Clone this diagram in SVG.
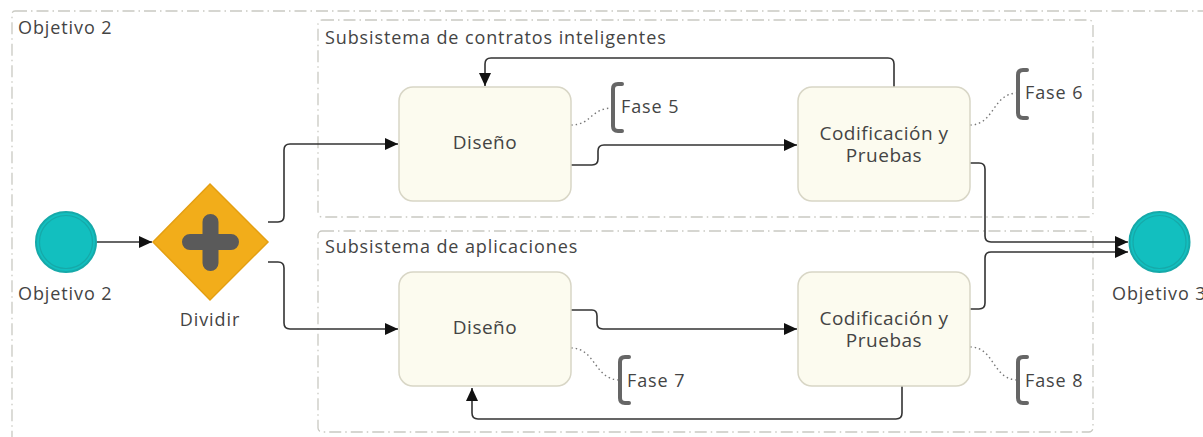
<svg xmlns="http://www.w3.org/2000/svg" width="1203" height="437" viewBox="0 0 1203 437">
  <style>
    .pool { fill: none; stroke: #c9c9c2; stroke-width: 1.3; stroke-dasharray: 12 4 1.5 4; }
    .lbl { font-family: "Open Sans", "Lato", sans-serif; font-size: 18px; letter-spacing: 0.9px; fill: #444; }
    .task rect { fill: #fcfbef; stroke: #d8d6c6; stroke-width: 1.5; }
    .task text { font-family: "Open Sans", "Lato", sans-serif; font-size: 19px; letter-spacing: 0.5px; fill: #444; text-anchor: middle; }
    .flow { fill: none; stroke: #333; stroke-width: 1.6; marker-end: url(#arrow); }
    .assoc { fill: none; stroke: #777; stroke-width: 1.4; stroke-dasharray: 1.5 3; }
    .bracket { fill: none; stroke: #666; stroke-width: 4; stroke-linecap: round; }
    .event circle.o { fill: #12bfbf; stroke: #16a9a9; stroke-width: 2; }
    .event circle.i { fill: none; stroke: #16a9a9; stroke-width: 1.2; }
  </style>
  <defs>
    <marker id="arrow" viewBox="0 0 13 12" refX="13" refY="6" markerWidth="13" markerHeight="12" markerUnits="userSpaceOnUse" orient="auto">
      <path d="M0,0 L13,6 L0,12 Z" fill="#111"/>
    </marker>
  </defs>

  <!-- pool and lanes -->
  <g id="pool">
    <rect class="pool" x="12" y="11" width="1220" height="440" rx="3"/>
    <text class="lbl" x="18" y="34">Objetivo 2</text>
  </g>
  <g id="lane-contratos">
    <rect class="pool" x="318" y="20" width="775" height="197" rx="4"/>
    <text class="lbl" x="325" y="44">Subsistema de contratos inteligentes</text>
  </g>
  <g id="lane-aplicaciones">
    <rect class="pool" x="318" y="231" width="775" height="201" rx="4"/>
    <text class="lbl" x="325" y="253">Subsistema de aplicaciones</text>
  </g>

  <!-- connectors -->
  <g id="connectors">
    <path class="flow" d="M97,242 H152"/>
    <path class="flow" d="M268,222 H278 Q284,222 284,216 V150 Q284,144 290,144 H398"/>
    <path class="flow" d="M268,262 H278 Q284,262 284,268 V323 Q284,329 290,329 H398"/>
    <path class="flow" d="M571,165 H592 Q598,165 598,159 V151 Q598,145 604,145 H797"/>
    <path class="flow" d="M894,87 V64 Q894,58 888,58 H491 Q485,58 485,64 V86"/>
    <path class="flow" d="M571,310 H592 Q597,310 597,316 V323 Q597,329 603,329 H797"/>
    <path class="flow" d="M902,386 V413 Q902,419 896,419 H478 Q472,419 472,413 V388"/>
    <path class="flow" d="M970,163 H979 Q985,163 985,169 V236 Q985,242 991,242 H1128"/>
    <path class="flow" d="M970,309 H979 Q985,309 985,303 V258 Q985,252 991,252 H1128"/>
    <path class="assoc" d="M571,125 C592,125 590,108 613,108"/>
    <path class="assoc" d="M970,125 C995,125 992,93 1018,93"/>
    <path class="assoc" d="M571,348 C596,348 594,380 620,380"/>
    <path class="assoc" d="M970,347 C995,347 992,380 1018,380"/>
  </g>

  <!-- start event -->
  <g id="start" class="event">
    <circle class="o" cx="66" cy="242" r="30"/>
    <circle class="i" cx="66" cy="242" r="26.5"/>
    <text class="lbl" x="18" y="300">Objetivo 2</text>
  </g>

  <!-- parallel gateway -->
  <g id="gateway">
    <path d="M210,184 L268,242 L210,300 L153,242 Z" fill="#f2ad1a" stroke="#e49f12" stroke-width="1.5"/>
    <path d="M190,242 H231 M210.5,222 V263" stroke="#5a5a5a" stroke-width="16" stroke-linecap="round"/>
    <text class="lbl" x="210" y="326" text-anchor="middle">Dividir</text>
  </g>

  <!-- tasks -->
  <g id="diseno-1" class="task">
    <rect x="399" y="87" width="172" height="114" rx="14"/>
    <text x="485" y="149">Diseño</text>
  </g>
  <g id="codificacion-1" class="task">
    <rect x="798" y="87" width="172" height="114" rx="14"/>
    <text x="884" y="140">Codificación y</text>
    <text x="884" y="162">Pruebas</text>
  </g>
  <g id="diseno-2" class="task">
    <rect x="399" y="272" width="172" height="114" rx="14"/>
    <text x="485" y="334">Diseño</text>
  </g>
  <g id="codificacion-2" class="task">
    <rect x="798" y="272" width="172" height="114" rx="14"/>
    <text x="884" y="325">Codificación y</text>
    <text x="884" y="347">Pruebas</text>
  </g>

  <!-- annotations -->
  <g id="fase-5">
    <path class="bracket" d="M622,84 H618 Q613,84 613,89 V126 Q613,131 618,131 H622"/>
    <text class="lbl" x="621" y="113">Fase 5</text>
  </g>
  <g id="fase-6">
    <path class="bracket" d="M1027,70 H1023 Q1018,70 1018,75 V113 Q1018,118 1023,118 H1027"/>
    <text class="lbl" x="1025" y="99">Fase 6</text>
  </g>
  <g id="fase-7">
    <path class="bracket" d="M629,357 H625 Q620,357 620,362 V398 Q620,403 625,403 H629"/>
    <text class="lbl" x="627" y="387">Fase 7</text>
  </g>
  <g id="fase-8">
    <path class="bracket" d="M1027,357 H1023 Q1018,357 1018,362 V398 Q1018,403 1023,403 H1027"/>
    <text class="lbl" x="1025" y="387">Fase 8</text>
  </g>

  <!-- end event -->
  <g id="end" class="event">
    <circle class="o" cx="1159.5" cy="242" r="30"/>
    <circle class="i" cx="1159.5" cy="242" r="26.5"/>
    <text class="lbl" x="1112" y="300">Objetivo 3</text>
  </g>
</svg>
